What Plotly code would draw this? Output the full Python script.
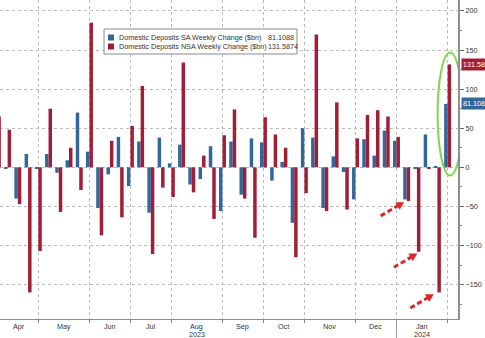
import pandas as pd
import plotly.graph_objects as go

# ---------------- data ----------------
weeks = pd.date_range("2023-04-05", periods=45, freq="7D")
sa_change = [None, -1, -40, 17, -1, 17, -7, 9, 70, 20, -52, -9, 39, -24, 33, -58, 38, 5,
             29, -22, -15, 27, -56, 33, -35, 37, 32, -17, 7, -71, 50, 38, -52, 14, -6,
             -41, 36, 15, 47, 34, -41, -1, 42, 0.5, 81.1088]
nsa_change = [65, 48, -47, -160, -107, 75, -57, 25, -29, 185, -87, 34, -64, 53, 104, -111,
              -26, -38, 134, -32, 15, -66, 41, 74, -40, -90, 64, 42, 25, -115, -33, 170,
              -56, 83, -54, 37, 67, 73, 65, 39, -43, -108, -2, -160, 131.5874]
sa_name = "Domestic Deposits SA Weekly Change ($bn)"
nsa_name = "Domestic Deposits NSA Weekly Change ($bn)"
sa_last_text = "81.1088"
nsa_last_text = "131.5874"
month_labels = ["Apr", "May", "Jun", "Jul", "Aug", "Sep", "Oct", "Nov", "Dec", "Jan"]
year_labels = {"Aug": "2023", "Jan": "2024"}
y_ticks = [-150, -100, -50, 0, 50, 100, 150, 200]
highlight_bars = [("sa", 40), ("nsa", 41), ("nsa", 43)]

BLUE = "#33679a"
RED = "#a21d36"
GREEN = "#7bd652"
ARROW = "#d8262b"
FONT = "Liberation Sans, Arial, sans-serif"

x_start = weeks[0] + pd.Timedelta(days=1.8)
x_end = weeks[-1] + pd.Timedelta(days=7.1)

fig = go.Figure()
fig.add_bar(x=weeks, y=sa_change, name=sa_name, marker_color=BLUE, marker_line_width=0)
fig.add_bar(x=weeks, y=nsa_change, name=nsa_name, marker_color=RED, marker_line_width=0)

# month boundaries: first weekly observation of each month
s = pd.Series(weeks)
firsts = s.groupby([s.dt.year, s.dt.month]).first().tolist()
grid_dates = [d for d in firsts if d > x_start]
bounds = [x_start] + grid_dates
label_annotations = []
for i, lab in enumerate(month_labels):
    mid = bounds[i] + (bounds[i + 1] - bounds[i]) / 2
    label_annotations.append(dict(x=mid, y=0, xref="x", yref="paper", yanchor="top",
                                  yshift=-1, text=lab, showarrow=False,
                                  font=dict(size=7.2, color="#333", family=FONT)))
    if lab in year_labels:
        label_annotations.append(dict(x=mid, y=0, xref="x", yref="paper", yanchor="top",
                                      yshift=-8.5, text=year_labels[lab], showarrow=False,
                                      font=dict(size=7.2, color="#333", family=FONT)))

fig.update_layout(
    width=485, height=338,
    margin=dict(l=0, r=27, t=0, b=19),
    plot_bgcolor="white", paper_bgcolor="white",
    showlegend=False,
    barmode="group", bargap=0.32, bargroupgap=0,
    font=dict(family=FONT, size=7.2, color="#333"),
    xaxis=dict(type="date", range=[x_start, x_end], tickvals=grid_dates,
               showticklabels=False, ticks="outside", ticklen=3, tickcolor="#888",
               showgrid=True, gridcolor="#bcbcbc", griddash="dot", gridwidth=1,
               showline=True, linecolor="#8c8c8c", linewidth=1, zeroline=False),
    yaxis=dict(side="right", range=[-194, 214], tickvals=y_ticks,
               showgrid=True, gridcolor="#bcbcbc", griddash="dot", gridwidth=1,
               zeroline=False, showline=True, linecolor="#8f8f8f", linewidth=2,
               ticks="outside", ticklen=4, tickcolor="#666",
               tickfont=dict(size=7.2, color="#333", family=FONT),
               minor=dict(dtick=25, tick0=0, ticks="outside", ticklen=2,
                          tickcolor="#888", showgrid=False)),
)

annotations = list(label_annotations)

# right-side last value tags
for val, txt, col in [(nsa_change[-1], nsa_last_text, RED), (sa_change[-1], sa_last_text, BLUE)]:
    annotations.append(dict(x=1, xref="paper", xanchor="left", xshift=3, y=val, yref="y",
                            yanchor="middle", text=txt, showarrow=False, bgcolor=col,
                            borderpad=1, font=dict(size=7.2, color="white", family=FONT)))

# legend drawn as box + swatches + text
W, H = 458.0, 319.0
def px(x):
    return x / W
def py(y):
    return 1 - y / H

shapes = []
shapes.append(dict(type="rect", xref="paper", yref="paper", x0=px(104), x1=px(297),
                   y0=py(54), y1=py(29), line=dict(color="#8a8a8a", width=1),
                   fillcolor="white", layer="above"))
for i, (name, num, col) in enumerate([(sa_name, sa_last_text, BLUE), (nsa_name, nsa_last_text, RED)]):
    yc = 37.5 + 9 * i
    shapes.append(dict(type="rect", xref="paper", yref="paper", x0=px(108), x1=px(114),
                       y0=py(yc + 3), y1=py(yc - 3), line=dict(width=0), fillcolor=col))
    annotations.append(dict(x=px(117), y=py(yc), xref="paper", yref="paper", xanchor="left",
                            yanchor="middle", text=name, showarrow=False,
                            font=dict(size=7.2, color="#333", family=FONT)))
    annotations.append(dict(x=px(266), y=py(yc), xref="paper", yref="paper", xanchor="left",
                            yanchor="middle", text=num, showarrow=False,
                            font=dict(size=7.2, color="#333", family=FONT)))

# year separator under the Jan boundary
jan_start = [d for d in grid_dates if d.month == 1][0]
shapes.append(dict(type="line", xref="x", yref="paper", x0=jan_start, x1=jan_start,
                   y0=0, y1=-19 / H, line=dict(color="#999", width=1)))

# green ellipse around last pair
shapes.append(dict(type="circle", xref="x", yref="y", xsizemode="pixel", ysizemode="pixel",
                   xanchor=weeks[-1], yanchor=nsa_change[-1], x0=-10, x1=15, y0=-111, y1=12,
                   line=dict(color=GREEN, width=2)))

# red dashed arrows
arrow_offsets = [(-3, -3), (0, -2), (-4, -2)]
vec = (23.0, 13.5)
for (series, idx), (tx, ty) in zip(highlight_bars, arrow_offsets):
    val = sa_change[idx] if series == "sa" else nsa_change[idx]
    L = (vec[0] ** 2 + vec[1] ** 2) ** 0.5
    ux, uy = vec[0] / L, vec[1] / L
    hl, hw = 7.0, 4.0
    bx, by = tx - ux * hl, ty - uy * hl
    sx, sy = tx - vec[0], ty - vec[1]
    shapes.append(dict(type="line", xref="x", yref="y", xsizemode="pixel", ysizemode="pixel",
                       xanchor=weeks[idx], yanchor=val, x0=sx, y0=sy, x1=bx + ux, y1=by + uy,
                       line=dict(color=ARROW, width=3, dash="5px,3px")))
    p1 = (bx - uy * hw, by + ux * hw)
    p2 = (bx + uy * hw, by - ux * hw)
    path = f"M {tx},{ty} L {p1[0]:.2f},{p1[1]:.2f} L {p2[0]:.2f},{p2[1]:.2f} Z"
    shapes.append(dict(type="path", xref="x", yref="y", xsizemode="pixel", ysizemode="pixel",
                       xanchor=weeks[idx], yanchor=val, path=path,
                       fillcolor=ARROW, line=dict(color=ARROW, width=0.5)))

fig.update_layout(shapes=shapes, annotations=annotations)
fig.write_html("out.html")
